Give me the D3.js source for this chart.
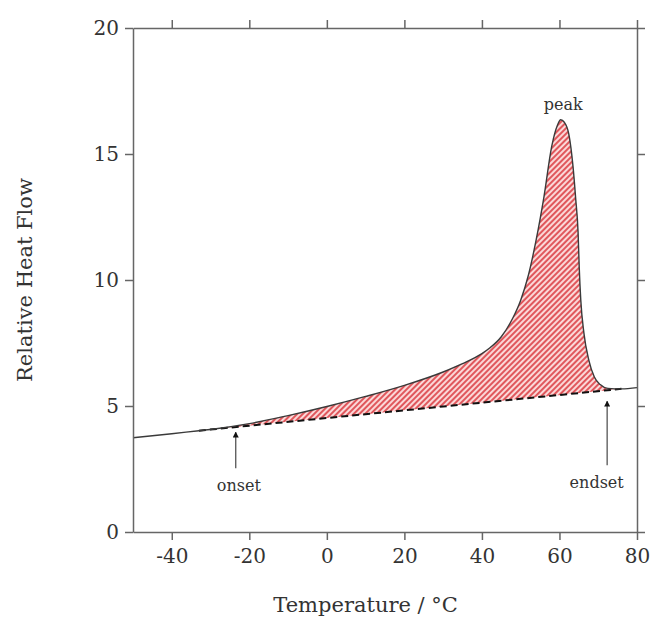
<!DOCTYPE html>
<html lang="en">
<head>
<meta charset="utf-8">
<title>DSC peak</title>
<script src="https://d3js.org/d3.v7.min.js"></script>
<style>
body { margin: 0; background: #fff; }
svg text { font-family: "DejaVu Serif", serif; fill: #333; }
.axis path, .axis line { stroke: #666; stroke-width: 1.5; }
.axis text { font-size: 20px; fill: #333; }
</style>
</head>
<body>
<svg width="650" height="621"></svg>
<script>

// heat flow trace
var temps = [-50, -40, -33, -30, -20, -10, 0, 10, 20, 30, 35, 40, 42, 45, 48, 50, 52, 54, 56, 58, 59.5, 60.3, 61.3, 62.4, 63.5, 64.2, 64.8, 65.1, 65.5, 66.3, 67.6, 69, 70.5, 72.5, 76, 80];
var flows = [3.74, 3.90, 4.02, 4.07, 4.30, 4.62, 4.98, 5.38, 5.82, 6.35, 6.68, 7.08, 7.3, 7.75, 8.5, 9.2, 10.2, 11.6, 13.3, 15.3, 16.15, 16.36, 16.25, 15.8, 14.5, 13.2, 11.9, 10.5, 9.2, 7.9, 6.8, 6.15, 5.85, 5.7, 5.68, 5.73];

// baseline between onset and endset
var baseTemps = [-33, 76];
var baseFlows = [4.02, 5.68];

var xTicks = [-40, -20, 0, 20, 40, 60, 80];
var yTicks = [0, 5, 10, 15, 20];

// annotations: arrow from y1 up to y2, label at labelY
var notes = ["onset", "endset"];
var noteTemps = [-23.5, 72.3];
var noteY1 = [2.53, 2.65];
var noteY2 = [3.96, 5.19];
var noteLabelT = [-22.7, 69.6];
var noteLabelY = [1.86, 1.98];
var peakLabel = "peak", peakT = 61.0, peakY = 16.95;

var svg = d3.select("svg"),
    margin = {top: 28, right: 13, bottom: 89, left: 133},
    width = svg.attr("width") - margin.left - margin.right,
    height = svg.attr("height") - margin.top - margin.bottom;

var x = d3.scaleLinear().domain([-50, 80]).range([0, width]);
var y = d3.scaleLinear().domain([0, 20]).range([height, 0]);
var baseline = d3.scaleLinear().domain(baseTemps).range(baseFlows);

// plain hyphen for negatives, like the original
var plain = function(d) { return String(d); };

var data = temps.map(function(t, i) { return {t: t, v: flows[i]}; });

var defs = svg.append("defs");
var pat = defs.append("pattern")
    .attr("id", "hatch")
    .attr("patternUnits", "userSpaceOnUse")
    .attr("width", 4).attr("height", 4)
    .attr("patternTransform", "rotate(45)");
pat.append("rect").attr("width", 4).attr("height", 4).attr("fill", "#fbd8d8");
pat.append("line").attr("x1", 1).attr("y1", 0).attr("x2", 1).attr("y2", 4)
    .attr("stroke", "#e0575c").attr("stroke-width", 2);

defs.append("marker")
    .attr("id", "head")
    .attr("viewBox", "0 0 10 10")
    .attr("refX", 9).attr("refY", 5)
    .attr("markerWidth", 6).attr("markerHeight", 6)
    .attr("markerUnits", "userSpaceOnUse")
    .attr("orient", "auto")
  .append("path").attr("d", "M0,0L10,5L0,10Z").attr("fill", "#111");

var g = svg.append("g")
    .attr("transform", "translate(" + margin.left + "," + margin.top + ")");

// hatched area between trace and baseline
var inside = data.filter(function(d) { return d.t >= baseTemps[0] && d.t <= baseTemps[1]; });
g.append("path")
    .datum(inside)
    .attr("fill", "url(#hatch)")
    .attr("d", d3.area()
        .curve(d3.curveMonotoneX)
        .x(function(d) { return x(d.t); })
        .y0(function(d) { return y(baseline(d.t)); })
        .y1(function(d) { return y(d.v); }));

// dashed baseline
g.append("line")
    .attr("x1", x(baseTemps[0])).attr("y1", y(baseFlows[0]))
    .attr("x2", x(baseTemps[1])).attr("y2", y(baseFlows[1]))
    .attr("stroke", "#111")
    .attr("stroke-width", 2)
    .attr("stroke-dasharray", "7,4");

// trace
g.append("path")
    .datum(data)
    .attr("fill", "none")
    .attr("stroke", "#3a3a3a")
    .attr("stroke-width", 1.4)
    .attr("d", d3.line()
        .curve(d3.curveMonotoneX)
        .x(function(d) { return x(d.t); })
        .y(function(d) { return y(d.v); }));

// axes on all four sides
g.append("g").attr("class", "axis")
    .attr("transform", "translate(0," + height + ")")
    .call(d3.axisBottom(x).tickValues(xTicks).tickSize(8).tickSizeOuter(0).tickPadding(9).tickFormat(plain));
g.append("g").attr("class", "axis")
    .call(d3.axisTop(x).tickValues(xTicks).tickSize(8).tickSizeOuter(0).tickFormat(""));
g.append("g").attr("class", "axis")
    .call(d3.axisLeft(y).tickValues(yTicks).tickSize(8).tickSizeOuter(0).tickPadding(6).tickFormat(plain));
g.append("g").attr("class", "axis")
    .attr("transform", "translate(" + width + ",0)")
    .call(d3.axisRight(y).tickValues(yTicks).tickSize(8).tickSizeOuter(0).tickFormat(""));

// onset / endset arrows
notes.forEach(function(n, i) {
  g.append("line")
      .attr("x1", x(noteTemps[i])).attr("y1", y(noteY1[i]))
      .attr("x2", x(noteTemps[i])).attr("y2", y(noteY2[i]))
      .attr("stroke", "#555")
      .attr("stroke-width", 1.3)
      .attr("marker-end", "url(#head)");
  g.append("text")
      .attr("x", x(noteLabelT[i])).attr("y", y(noteLabelY[i]))
      .attr("dy", "0.35em")
      .attr("text-anchor", "middle")
      .style("font-size", "16px")
      .text(n);
});

g.append("text")
    .attr("x", x(peakT)).attr("y", y(peakY))
    .attr("dy", "0.35em")
    .attr("text-anchor", "middle")
    .style("font-size", "16px")
    .text(peakLabel);

svg.append("text")
    .attr("x", margin.left + x(10)).attr("y", 605)
    .attr("dy", "0.35em")
    .attr("text-anchor", "middle")
    .style("font-size", "21px")
    .text("Temperature / °C");

svg.append("text")
    .attr("transform", "translate(25," + (margin.top + y(10)) + ")rotate(-90)")
    .attr("dy", "0.35em")
    .attr("text-anchor", "middle")
    .style("font-size", "21px")
    .text("Relative Heat Flow");

</script>
</body>
</html>
